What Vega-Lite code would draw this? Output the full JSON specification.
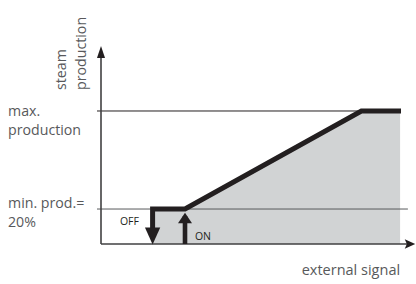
{
  "$schema": "https://vega.github.io/schema/vega-lite/v6.json",
  "width": 416,
  "height": 284,
  "autosize": {"type": "fit", "contains": "padding"},
  "padding": 0,
  "background": "white",
  "config": {"view": {"stroke": null}},
  "datasets": {
    "fill": [
      {"signal": 17.2, "prod": 26.3},
      {"signal": 28, "prod": 26.3},
      {"signal": 86.8, "prod": 100},
      {"signal": 99.7, "prod": 100}
    ],
    "curve": [
      {"step": 1, "signal": 17.2, "prod": 8},
      {"step": 2, "signal": 17.2, "prod": 26.3},
      {"step": 3, "signal": 28, "prod": 26.3},
      {"step": 4, "signal": 86.8, "prod": 100},
      {"step": 5, "signal": 100, "prod": 100}
    ],
    "labels": [
      {"label": "max.", "signal": -31, "prod": 96.2},
      {"label": "production", "signal": -31, "prod": 82},
      {"label": "min. prod.=", "signal": -31, "prod": 27.3},
      {"label": "20%", "signal": -31, "prod": 12.8}
    ],
    "vlabels": [
      {"label": "steam", "signal": -11.7, "prod": 115.8},
      {"label": "production", "signal": -5, "prod": 115.8}
    ]
  },
  "layer": [
    {
      "data": {"name": "fill"},
      "mark": {"type": "area", "color": "#d1d3d4", "interpolate": "linear"},
      "encoding": {
        "x": {"field": "signal", "type": "quantitative", "scale": {"domain": [-33.667, 105], "nice": false, "zero": false}, "axis": null},
        "y": {"field": "prod", "type": "quantitative", "scale": {"domain": [-30.08, 183.46], "nice": false, "zero": false}, "axis": null},
        "y2": {"datum": 0}
      }
    },
    {
      "data": {"values": [{"from": -1.33, "to": 100, "level": 100}]},
      "mark": {"type": "rule", "color": "#231f20", "strokeWidth": 1},
      "encoding": {
        "x": {"field": "from", "type": "quantitative"},
        "x2": {"field": "to"},
        "y": {"field": "level", "type": "quantitative"}
      }
    },
    {
      "data": {"values": [{"from": -1.33, "to": 102.3, "level": 26.3}]},
      "mark": {"type": "rule", "color": "#58595b", "strokeWidth": 1},
      "encoding": {
        "x": {"field": "from", "type": "quantitative"},
        "x2": {"field": "to"},
        "y": {"field": "level", "type": "quantitative"}
      }
    },
    {
      "data": {"values": [{"from": 0, "to": 103, "level": 0}]},
      "mark": {"type": "rule", "color": "#414042", "strokeWidth": 1.6},
      "encoding": {
        "x": {"field": "from", "type": "quantitative"},
        "x2": {"field": "to"},
        "y": {"field": "level", "type": "quantitative"}
      }
    },
    {
      "data": {"values": [{"at": 0, "from": 0, "to": 144}]},
      "mark": {"type": "rule", "color": "#414042", "strokeWidth": 1.6},
      "encoding": {
        "x": {"field": "at", "type": "quantitative"},
        "y": {"field": "from", "type": "quantitative"},
        "y2": {"field": "to"}
      }
    },
    {
      "data": {"name": "curve"},
      "mark": {"type": "line", "color": "#231f20", "strokeWidth": 5, "strokeCap": "butt", "strokeJoin": "miter"},
      "encoding": {
        "x": {"field": "signal", "type": "quantitative"},
        "y": {"field": "prod", "type": "quantitative"},
        "order": {"field": "step"}
      }
    },
    {
      "data": {"values": [{"at": 28, "from": 0, "to": 21}]},
      "mark": {"type": "rule", "color": "#231f20", "strokeWidth": 4.6},
      "encoding": {
        "x": {"field": "at", "type": "quantitative"},
        "y": {"field": "from", "type": "quantitative"},
        "y2": {"field": "to"}
      }
    },
    {
      "data": {"values": [{"signal": 0, "prod": 144.4}]},
      "mark": {"type": "point", "filled": true, "opacity": 1, "color": "#231f20", "size": 144, "shape": "M0,-1L0.67,1L-0.67,1Z"},
      "encoding": {
        "x": {"field": "signal", "type": "quantitative"},
        "y": {"field": "prod", "type": "quantitative"}
      }
    },
    {
      "data": {"values": [{"signal": 103, "prod": 0}]},
      "mark": {"type": "point", "filled": true, "opacity": 1, "color": "#231f20", "size": 110, "shape": "M1,0L-1,-0.9L-0.6,0L-1,0.9Z"},
      "encoding": {
        "x": {"field": "signal", "type": "quantitative"},
        "y": {"field": "prod", "type": "quantitative"}
      }
    },
    {
      "data": {"values": [{"signal": 17.2, "prod": 6}]},
      "mark": {"type": "point", "filled": true, "opacity": 1, "color": "#231f20", "size": 289, "shape": "M-0.9,-1L0.9,-1L0,1Z"},
      "encoding": {
        "x": {"field": "signal", "type": "quantitative"},
        "y": {"field": "prod", "type": "quantitative"}
      }
    },
    {
      "data": {"values": [{"signal": 28, "prod": 19.5}]},
      "mark": {"type": "point", "filled": true, "opacity": 1, "color": "#231f20", "size": 196, "shape": "M0,-0.75L1,0.75L-1,0.75Z"},
      "encoding": {
        "x": {"field": "signal", "type": "quantitative"},
        "y": {"field": "prod", "type": "quantitative"}
      }
    },
    {
      "data": {"name": "labels"},
      "mark": {"type": "text", "align": "left", "baseline": "alphabetic", "font": "Open Sans", "fontSize": 14.2, "color": "#58595b"},
      "encoding": {
        "x": {"field": "signal", "type": "quantitative"},
        "y": {"field": "prod", "type": "quantitative"},
        "text": {"field": "label"}
      }
    },
    {
      "data": {"name": "vlabels"},
      "mark": {"type": "text", "align": "left", "baseline": "alphabetic", "angle": 270, "font": "Open Sans", "fontSize": 14.2, "color": "#58595b"},
      "encoding": {
        "x": {"field": "signal", "type": "quantitative"},
        "y": {"field": "prod", "type": "quantitative"},
        "text": {"field": "label"}
      }
    },
    {
      "data": {"values": [{"label": "external signal", "signal": 99.7, "prod": -23.3}]},
      "mark": {"type": "text", "align": "right", "baseline": "alphabetic", "font": "Open Sans", "fontSize": 14.5, "color": "#58595b"},
      "encoding": {
        "x": {"field": "signal", "type": "quantitative"},
        "y": {"field": "prod", "type": "quantitative"},
        "text": {"field": "label"}
      }
    },
    {
      "data": {"values": [{"label": "OFF", "signal": 6.3, "prod": 14.3}, {"label": "ON", "signal": 31.3, "prod": 3}]},
      "mark": {"type": "text", "align": "left", "baseline": "alphabetic", "font": "Open Sans", "fontSize": 10.5, "color": "#231f20"},
      "encoding": {
        "x": {"field": "signal", "type": "quantitative"},
        "y": {"field": "prod", "type": "quantitative"},
        "text": {"field": "label"}
      }
    }
  ]
}
